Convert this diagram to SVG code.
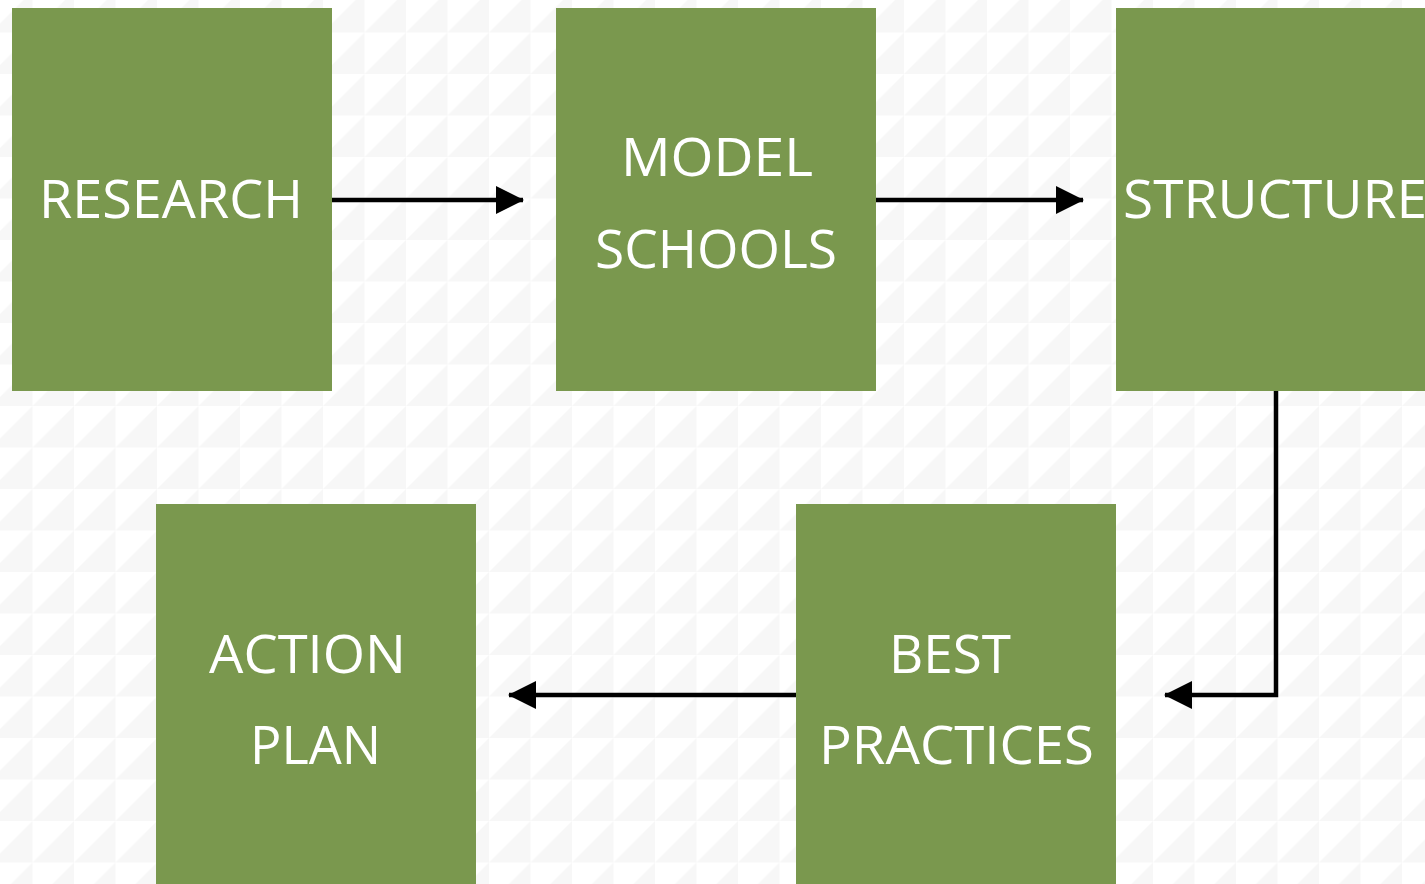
<svg xmlns="http://www.w3.org/2000/svg" width="1425" height="884" viewBox="0 0 1425 884">
<style>
.box{fill:#7a984e}
.lbl{font-family:"Open Sans","Liberation Sans",sans-serif;font-size:53px;fill:#ffffff}
.con{stroke:#000;stroke-width:4.5;fill:none}
</style>
<defs>
<pattern id="bg" x="-9" y="-9" width="41.5" height="41.5" patternUnits="userSpaceOnUse">
<rect width="41.5" height="41.5" fill="#ffffff"/>
<polygon points="41.5,0 41.5,41.5 0,41.5" fill="#f7f7f7"/>
</pattern>
<marker id="ah" markerWidth="28" markerHeight="28" refX="27" refY="14" orient="auto" markerUnits="userSpaceOnUse">
<polygon points="0,0 28,14 0,28" fill="#000"/>
</marker>
</defs>
<rect width="1425" height="884" fill="url(#bg)"/>
<g id="connectors">
<line class="con" x1="332" y1="200" x2="523" y2="200" marker-end="url(#ah)"/>
<line class="con" x1="876" y1="200" x2="1083" y2="200" marker-end="url(#ah)"/>
<polyline class="con" points="1276,391 1276,695 1165,695" marker-end="url(#ah)"/>
<line class="con" x1="796" y1="695" x2="509" y2="695" marker-end="url(#ah)"/>
</g>
<g id="research">
<rect class="box" x="12" y="8" width="320" height="383"/>
<text class="lbl" x="39" y="218" textLength="264" lengthAdjust="spacingAndGlyphs">RESEARCH</text>
</g>
<g id="model-schools">
<rect class="box" x="556" y="8" width="320" height="383"/>
<text class="lbl" x="621" y="176" textLength="192" lengthAdjust="spacingAndGlyphs">MODEL</text>
<text class="lbl" x="595" y="268" textLength="242" lengthAdjust="spacingAndGlyphs">SCHOOLS</text>
</g>
<g id="structure">
<rect class="box" x="1116" y="8" width="320" height="383"/>
<text class="lbl" x="1123" y="218" textLength="304" lengthAdjust="spacingAndGlyphs">STRUCTURE</text>
</g>
<g id="best-practices">
<rect class="box" x="796" y="504" width="320" height="380"/>
<text class="lbl" x="889" y="673" textLength="122" lengthAdjust="spacingAndGlyphs">BEST</text>
<text class="lbl" x="819" y="764" textLength="275" lengthAdjust="spacingAndGlyphs">PRACTICES</text>
</g>
<g id="action-plan">
<rect class="box" x="156" y="504" width="320" height="380"/>
<text class="lbl" x="209" y="673" textLength="197" lengthAdjust="spacingAndGlyphs">ACTION</text>
<text class="lbl" x="250" y="764" textLength="131" lengthAdjust="spacingAndGlyphs">PLAN</text>
</g>
</svg>
